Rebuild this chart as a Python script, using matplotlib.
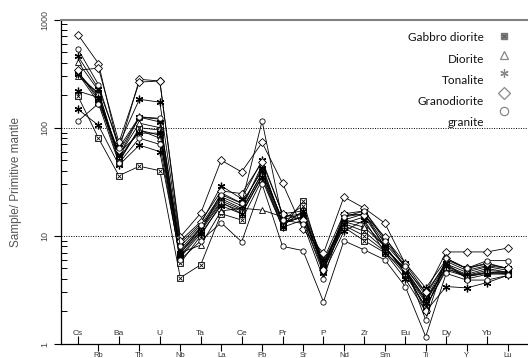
import matplotlib
matplotlib.use('Agg')
import matplotlib.pyplot as plt

elements = ['Cs', 'Rb', 'Ba', 'Th', 'U', 'Nb', 'Ta', 'La', 'Ce', 'Pb', 'Pr',
            'Sr', 'P', 'Nd', 'Zr', 'Sm', 'Eu', 'Ti', 'Dy', 'Y', 'Yb', 'Lu']

# primitive-mantle normalised values, one row per sample
gabbro_diorite = [
    [195, 80, 36, 44, 40, 4.1, 5.4, 16, 14, 33, 12, 21, 5.0, 12, 9.0, 7.0, 4.8, 2.6, 5.0, 4.3, 4.6, 4.6],
    [320, 200, 52, 95, 85, 5.6, 10, 20, 17, 38, 14, 19, 5.5, 13, 11, 7.5, 5.0, 3.0, 5.5, 4.6, 5.2, 4.8],
    [325, 190, 48, 100, 95, 6.5, 11, 20.5, 16, 36, 12.5, 17, 4.8, 12.5, 10, 7.2, 4.4, 2.2, 5.0, 4.2, 4.6, 4.5],
]
diorite = [
    [404, 220, 50, 95, 80, 7.0, 8.2, 17, 18, 17.3, 15, 16, 5.8, 14, 13, 8.0, 4.5, 2.2, 4.8, 4.2, 4.5, 4.4],
    [330, 180, 60, 125, 120, 7.5, 12, 22, 18, 45, 13, 15, 5.3, 15, 16, 8.5, 5.2, 2.8, 5.8, 4.8, 5.3, 5.0],
    [300, 210, 55, 110, 100, 7.2, 11.5, 21, 17.5, 38, 13, 15, 5.6, 13.5, 12, 8.0, 4.7, 2.5, 5.2, 4.3, 4.8, 4.6],
]
tonalite = [
    [457, 230, 70, 183, 172, 8.5, 13, 29, 22, 50, 16, 17, 6.0, 16, 17, 9.5, 5.6, 3.3, 6.0, 5.0, 5.5, 5.0],
    [218, 190, 55, 125, 113, 7.0, 11, 25, 20, 40, 14, 16, 5.0, 13, 15, 8.0, 4.6, 2.4, 5.3, 4.4, 5.0, 4.6],
    [148, 105, 45, 69, 60, 6.3, 10.5, 19, 16, 35, 12, 14, 4.5, 11, 14, 7.0, 4.0, 2.0, 3.4, 3.3, 3.7, 4.3],
    [316, 170, 58, 89, 89, 6.8, 12, 23, 19, 42, 13.5, 15, 5.2, 14, 16, 7.8, 4.9, 2.6, 5.6, 4.0, 4.4, 4.5],
]
granodiorite = [
    [724, 392, 62, 280, 270, 9.8, 16.2, 50, 39, 73, 30.6, 11.5, 6.9, 22.9, 18, 13.1, 5.5, 3.0, 7.1, 7.1, 7.1, 7.7],
    [340, 355, 73, 264, 270, 9.0, 13.5, 26, 24.6, 48, 16, 14, 4.8, 16, 15.5, 9.8, 5.0, 2.0, 6.2, 5.0, 5.6, 5.0],
]
granite = [
    [530, 250, 65, 126, 122, 8.0, 12.5, 24, 20, 115, 14, 13, 4.0, 15, 17, 9.0, 5.3, 1.67, 6.2, 5.0, 5.9, 5.9],
    [115, 167, 47, 80, 70, 6.0, 9.0, 13.2, 8.8, 30, 8.0, 7.3, 2.46, 9.0, 7.4, 6.0, 3.4, 1.17, 4.5, 3.9, 3.9, 4.3],
]

x = list(range(len(elements)))

fig = plt.figure(figsize=(5.28, 3.58), dpi=100)
ax = fig.add_axes([0.1146, 0.0391, 0.8854, 0.9064])
ax.set_yscale('log')
ax.set_ylim(1, 1000)
ax.set_xlim(-0.856, 22.0)

ax.axhline(10, color='k', ls=(0, (1, 1.5)), lw=0.7)
ax.axhline(100, color='k', ls=(0, (1, 1.5)), lw=0.7)

line_kw = dict(color='k', lw=0.6, mfc='white', mec='k', mew=0.6)
for row in gabbro_diorite:
    ax.plot(x, row, marker='s', ms=4, **line_kw)
    ax.plot(x, row, ls='none', marker='x', ms=2.8, mec='k', mew=0.6)
for row in diorite:
    ax.plot(x, row, marker='^', ms=4.5, **line_kw)
for row in tonalite:
    ax.plot(x, row, marker=(6, 2, 0), ms=5.5, **dict(line_kw, mew=0.9))
for row in granodiorite:
    ax.plot(x, row, marker='D', ms=4, **line_kw)
for row in granite:
    ax.plot(x, row, marker='o', ms=3.8, **line_kw)

# spines
ax.spines['right'].set_visible(False)
ax.spines['top'].set_color('#808080')
ax.spines['top'].set_linewidth(1.5)
ax.spines['left'].set_linewidth(0.9)
ax.spines['bottom'].set_linewidth(0.9)

# x axis: alternating labels above and below the axis
ax.set_xticks(x[0::2])
ax.set_xticklabels([])
ax.set_xticks(x[1::2], minor=True)
ax.set_xticklabels(elements[1::2], minor=True, fontsize=5.5, color='#333333',
                   family='Liberation Sans')
ax.tick_params(axis='x', which='major', direction='in', length=6, width=0.8)
ax.tick_params(axis='x', which='minor', direction='out', length=5, width=0.8, pad=0.5)
for i in x[0::2]:
    ax.text(i, 0.023, elements[i], transform=ax.get_xaxis_transform(),
            ha='center', va='bottom', fontsize=6, color='#333333',
            family='Liberation Sans')

# y axis
ax.set_yticks([1, 10, 100, 1000])
ax.set_yticklabels(['1', '10', '100', '1000'], rotation=90, va='center',
                   fontsize=6.5, color='#444444', family='Liberation Sans')
ax.tick_params(axis='y', which='major', direction='out', length=5, width=0.8, pad=3)
ax.tick_params(axis='y', which='minor', direction='in', length=4, width=0.7)
ax.set_ylabel('Sample/ Primitive mantle', fontsize=8.5, color='#555555',
              family='Liberation Sans', labelpad=13)

# legend drawn as text with markers on the right
legend_rows = ['Gabbro diorite', 'Diorite', 'Tonalite', 'Granodiorite', 'granite']
legend_markers = ['s', '^', (6, 2, 0), 'D', 'o']
text_y = [0.946, 0.878, 0.813, 0.748, 0.683]
mark_y = [0.950, 0.890, 0.835, 0.773, 0.718]
for label, mk, ty, my in zip(legend_rows, legend_markers, text_y, mark_y):
    ax.text(0.906, ty, label, transform=ax.transAxes, ha='right', va='center',
            fontsize=8.5, color='#111111', family='Lato')
    if label == 'Gabbro diorite':
        ax.plot([0.949], [my], transform=ax.transAxes, marker='s', ms=5,
                mfc='#888888', mec='#777777', clip_on=False)
        ax.plot([0.949], [my], transform=ax.transAxes, marker='x', ms=3,
                mec='#555555', mew=0.7, clip_on=False)
    else:
        ax.plot([0.949], [my], transform=ax.transAxes, marker=mk, ms=6,
                mfc='white', mec='#888888', mew=0.9, clip_on=False)

fig.savefig('out.png', dpi=100)
